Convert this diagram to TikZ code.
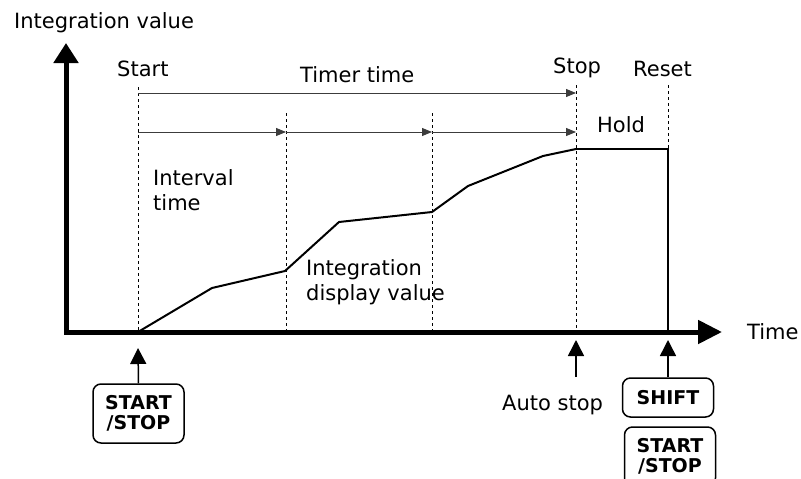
\documentclass[tikz,border=0pt]{standalone}
\usepackage{fontspec}
\setmainfont{DejaVu Sans}
\usetikzlibrary{arrows.meta}
\definecolor{ink}{HTML}{000000}
\definecolor{greya}{HTML}{3C3C3C}
\newcommand{\lbl}{\fontsize{21}{25}\selectfont}
\newcommand{\tastfont}{\fontsize{19}{20}\selectfont\bfseries}
\tikzset{achse/.style={ink,line width=5pt,line join=miter},
  hilfslinie/.style={ink,line width=0.8pt,dash pattern=on 3pt off 3pt},
  zeitpfeil/.style={greya,line width=0.9pt,-{Triangle[length=10pt,width=8pt]}},
  tastpfeil/.style={ink,line width=1.5pt,-{Triangle[length=16pt,width=16pt]}},
  tastbox/.style={draw=ink,line width=1.5pt,rounded corners=8pt,minimum width=91pt,
    inner sep=0,align=center,font=\tastfont},
  kurve/.style={ink,line width=2pt,line join=round},
  beschriftung/.style={anchor=base west,inner sep=0,text=ink,font=\lbl}}

\begin{document}
\begin{tikzpicture}[x=1pt,y=-1pt]
\useasboundingbox (0,0) rectangle (801,479);
% Hilfslinien
\draw[hilfslinie] (138,87) -- (138,332) (286,113) -- (286,332) (432,113) -- (432,332)
  (576,85) -- (576,332) (668,85) -- (668,149);
% Zeitpfeile
\draw[zeitpfeil] (138,93) -- (576,93);
\foreach \a/\b in {138/286,286/432,432/576}
  \draw[zeitpfeil] (\a,132) -- (\b,132);
% Integrationswert
\draw[kurve] (138,332) -- (212,288) -- (285,271) -- (339,222) -- (432,212) -- (468,186)
  -- (543,156) -- (576,149);
\draw[ink,line width=1.5pt] (576,149) -- (668,149) -- (668,332);
% Achsen
\coordinate (ytip) at (66,43);
\coordinate (ursprung) at (66,332);
\coordinate (xtip) at (722,332);
\draw[achse,{Triangle[length=20pt,width=24pt]}-{Triangle[length=24pt,width=23pt]}]
  (ytip) -- (ursprung) -- (xtip);
% Beschriftungen
\node[beschriftung] (ylabel) at (14,28) {Integration value};
\node[beschriftung] (xlabel) at (747,339) {Time};
\node[beschriftung] (start) at (117,76) {Start};
\node[beschriftung] (timer) at (300,82) {Timer time};
\node[beschriftung] (stop) at (553,73) {Stop};
\node[beschriftung] (reset) at (633,76) {Reset};
\node[beschriftung] (hold) at (597,132) {Hold};
\node[beschriftung,anchor=north west,align=left] (interval) at (153,169) {Interval\\time};
\node[beschriftung,anchor=north west,align=left] (anzeige) at (306,259.5) {Integration\\display value};
\node[beschriftung] (autostoplbl) at (502,410) {Auto stop};
% Tasten
\node[tastbox,minimum height=59pt] (startstop) at (138.5,413.5) {START\\/STOP};
\node[tastbox,minimum height=39pt] (shift) at (668,397.5) {SHIFT};
\node[tastbox,minimum height=59pt] (startstopb) at (670,456.5) {START\\/STOP};
\coordinate (startpunkt) at (138,348);
\coordinate (autostopfuss) at (576,377);
\coordinate (autostoppunkt) at (576,340);
\coordinate (resetpunkt) at (668,340);
\draw[tastpfeil] (startstop.north) -- (startpunkt);
\draw[tastpfeil] (autostopfuss) -- (autostoppunkt);
\draw[tastpfeil] (shift.north) -- (resetpunkt);
\end{tikzpicture}
\end{document}
